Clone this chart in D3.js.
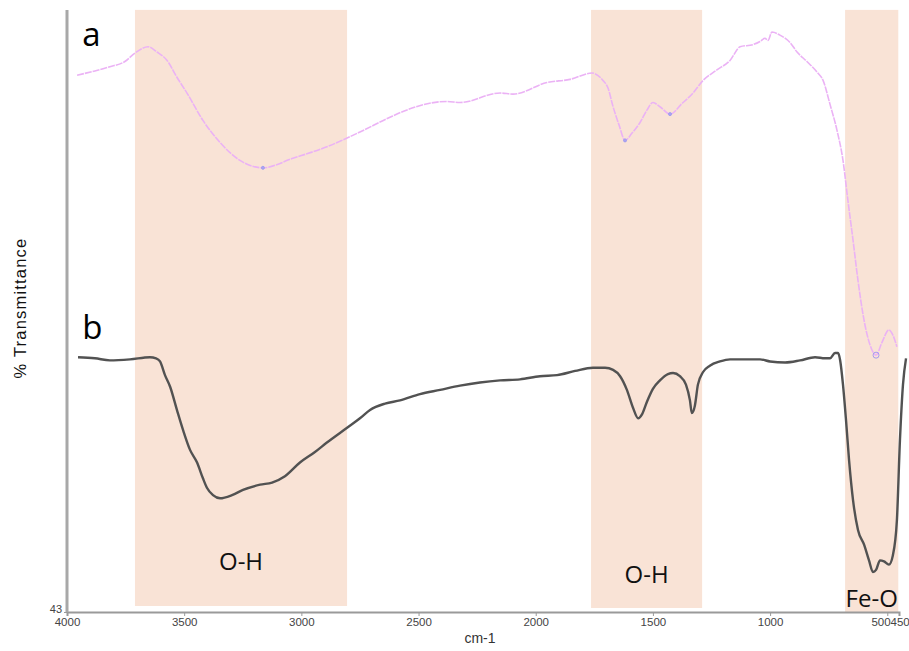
<!DOCTYPE html>
<html>
<head>
<meta charset="utf-8">
<script src="https://cdn.jsdelivr.net/npm/d3@7"></script>
<style>
  html, body { margin: 0; padding: 0; background: #fff; }
  svg { display: block; }
</style>
</head>
<body>
<svg id="chart" width="909" height="651"></svg>
<script>
// FTIR spectra: (a) and (b), % transmittance vs wavenumber (cm-1)

// Highlighted absorption regions
const bandFrom   = [3710, 1764, 680];
const bandTo     = [2805, 1290, 453];
const bandBottom = [43.57, 43.38, 43.0];
const bandLabels = ["O-H", "O-H", "Fe-O"];
const bandLabelY = [47.0, 45.75, 43.45];

// Spectrum a
const waveA = [3957, 3881, 3817, 3753, 3710, 3654, 3616, 3573, 3531, 3488, 3420, 3347, 3262, 3164,
  3036, 2891, 2750, 2622, 2549, 2379, 2323, 2152, 2097, 1952, 1854, 1760, 1713, 1692, 1670, 1645,
  1619, 1589, 1555, 1525, 1500, 1470, 1427, 1376, 1329, 1286, 1227, 1171, 1128, 1073, 1043, 1022,
  1009, 992, 958, 915, 885, 843, 800, 774, 744, 715, 689, 668, 646, 625, 599, 574, 548, 523, 493,
  476, 459];
const transA = [94.0, 94.4, 94.8, 95.3, 96.1, 96.7, 96.2, 95.4, 93.8, 92.3, 89.7, 87.6, 85.9, 85.2,
  86.1, 87.2, 88.6, 90.0, 90.7, 91.5, 91.4, 92.3, 92.2, 93.3, 93.6, 94.2, 93.5, 92.8, 91.0, 89.3,
  87.8, 88.5, 89.5, 90.7, 91.4, 91.0, 90.3, 91.3, 92.3, 93.5, 94.5, 95.4, 96.7, 96.9, 97.2, 97.5,
  97.3, 98.1, 97.8, 97.1, 96.2, 95.3, 94.3, 93.5, 91.2, 88.8, 85.9, 82.1, 78.3, 74.5, 70.7, 68.4,
  67.4, 68.6, 69.8, 69.3, 68.2];
// Marked minima on spectrum a
const peakWaveA = [3164, 1619, 1427, 548];
const peakTransA = [85.2, 87.8, 90.3, 67.4];

// Spectrum b
const waveB = [3953, 3881, 3817, 3731, 3646, 3620, 3603, 3582, 3560, 3531, 3505, 3475, 3445, 3420,
  3403, 3377, 3347, 3296, 3249, 3176, 3125, 3070, 3006, 2942, 2891, 2805, 2750, 2707, 2643, 2579,
  2494, 2408, 2323, 2238, 2152, 2067, 1982, 1909, 1832, 1756, 1704, 1670, 1640, 1611, 1585, 1563,
  1546, 1525, 1500, 1470, 1436, 1414, 1385, 1359, 1342, 1334, 1321, 1308, 1286, 1257, 1214, 1171,
  1107, 1043, 1000, 936, 872, 808, 766, 744, 723, 710, 701, 689, 676, 663, 646, 625, 599, 578, 561,
  548, 531, 514, 493, 476, 459, 446, 433, 420];
const transB = [67.2, 67.1, 66.9, 67.0, 67.2, 67.1, 66.8, 65.5, 64.4, 62.2, 60.3, 58.4, 57.2, 55.7,
  54.8, 54.1, 53.8, 54.1, 54.6, 55.1, 55.3, 55.9, 57.2, 58.2, 59.1, 60.5, 61.4, 62.2, 62.8, 63.1,
  63.7, 64.1, 64.5, 64.8, 65.0, 65.1, 65.4, 65.5, 65.9, 66.2, 66.2, 66.0, 65.4, 64.1, 62.4, 61.4,
  61.8, 63.0, 64.2, 65.0, 65.6, 65.7, 65.4, 64.6, 63.1, 61.9, 62.6, 64.6, 65.8, 66.4, 66.8, 67.0,
  67.0, 67.0, 66.8, 66.7, 66.9, 67.2, 67.1, 67.1, 67.6, 67.6, 66.9, 64.6, 61.2, 57.4, 53.6, 50.8,
  49.4, 47.9, 46.8, 47.0, 47.9, 47.8, 47.5, 48.4, 51.7, 59.3, 64.6, 67.1];

// Axis ticks
const xTicks = [4000, 3500, 3000, 2500, 2000, 1500, 1000, 500, 450];
const yTicks = [43];

// Series labels
const seriesNames = ["a", "b"];
const seriesLabelAt = [[3935, 96.75], [3935, 68.9]];

const svg = d3.select("#chart");
const x = d3.scaleLinear().domain([4000, 450]).range([67, 899]);
const y = d3.scaleLinear().domain([43, 100]).range([612, 12]);

// Shaded bands
svg.append("g").selectAll("rect")
  .data(bandFrom.map((f, i) => ({ f, t: bandTo[i], b: bandBottom[i] })))
  .join("rect")
  .attr("x", d => x(d.f))
  .attr("width", d => x(d.t) - x(d.f))
  .attr("y", y(100.2))
  .attr("height", d => y(d.b) - y(100.2))
  .attr("fill", "#f9e3d6");

svg.append("g").selectAll("text")
  .data(bandLabels)
  .join("text")
  .attr("x", (d, i) => x((bandFrom[i] + bandTo[i]) / 2))
  .attr("y", (d, i) => y(bandLabelY[i]))
  .attr("text-anchor", "middle")
  .attr("font-family", "Open Sans, Noto Sans, sans-serif")
  .attr("font-size", 24)
  .attr("fill", "#111")
  .text(d => d);

// Spectra
const line = d3.line()
  .x(d => x(d[0]))
  .y(d => y(d[1]))
  .curve(d3.curveMonotoneX);

svg.append("path")
  .datum(waveA.map((w, i) => [w, transA[i]]))
  .attr("d", line)
  .attr("fill", "none")
  .attr("stroke", "#ebb2f5")
  .attr("stroke-width", 1.6)
  .attr("stroke-dasharray", "7,1");

svg.append("g").selectAll("circle")
  .data(peakWaveA.map((w, i) => [w, peakTransA[i]]))
  .join("circle")
  .attr("cx", d => x(d[0]))
  .attr("cy", d => y(d[1]))
  .attr("r", (d, i) => i === 3 ? 3 : 1.5)
  .attr("fill", (d, i) => i === 3 ? "none" : "#a9a6f2")
  .attr("stroke", "#a59cf0")
  .attr("stroke-width", 1);

svg.append("path")
  .datum(waveB.map((w, i) => [w, transB[i]]))
  .attr("d", line)
  .attr("fill", "none")
  .attr("stroke", "#525252")
  .attr("stroke-width", 2.4)
  .attr("stroke-linejoin", "round");

// Series labels
svg.append("g").selectAll("text")
  .data(seriesNames)
  .join("text")
  .attr("x", (d, i) => x(seriesLabelAt[i][0]))
  .attr("y", (d, i) => y(seriesLabelAt[i][1]))
  .attr("font-family", "Open Sans, Noto Sans, sans-serif")
  .attr("font-size", 33)
  .attr("fill", "#000")
  .text(d => d);

// Axes
const xAxis = svg.append("g")
  .attr("transform", `translate(0,${y(43)})`)
  .call(d3.axisBottom(x).tickValues(xTicks).tickFormat(d3.format("d")).tickSize(4).tickSizeOuter(4));
xAxis.select(".domain").attr("stroke", "#9a9a9a").attr("stroke-width", 2);
xAxis.selectAll(".tick line").attr("stroke", "#9a9a9a");
xAxis.selectAll(".tick text")
  .attr("font-family", "Liberation Sans, Arial, sans-serif")
  .attr("font-size", 11.5)
  .attr("fill", "#444")
  .attr("dy", "0.6em")
  .attr("text-anchor", d => d === 500 ? "end" : "middle")
  .attr("dx", d => d === 500 ? "0.25em" : (d === 450 ? "0.05em" : 0));

const yAxis = svg.append("g")
  .attr("transform", `translate(${x(4000)},0)`)
  .call(d3.axisLeft(y).tickValues(yTicks).tickSize(3).tickSizeOuter(0));
yAxis.select(".domain")
  .attr("d", `M0,${y(100.2)}V${y(43)}`)
  .attr("stroke", "#a8a8a8")
  .attr("stroke-width", 3);
yAxis.selectAll(".tick line").attr("stroke", "#9a9a9a");
yAxis.selectAll(".tick text")
  .attr("font-family", "Liberation Sans, Arial, sans-serif")
  .attr("font-size", 11)
  .attr("fill", "#444")
  .attr("dy", "0.05em")
  .attr("dx", "0.1em");

// Axis titles
svg.append("text")
  .attr("x", (x.range()[0] + x.range()[1]) / 2 - 3)
  .attr("y", 643)
  .attr("text-anchor", "middle")
  .attr("font-family", "Liberation Sans, Arial, sans-serif")
  .attr("font-size", 14)
  .attr("fill", "#333")
  .text("cm-1");

svg.append("text")
  .attr("transform", `translate(26,308) rotate(-90)`)
  .attr("text-anchor", "middle")
  .attr("font-family", "Liberation Sans, Arial, sans-serif")
  .attr("font-size", 16.5)
  .attr("letter-spacing", 1.2)
  .attr("fill", "#111")
  .text("% Transmittance");
</script>
</body>
</html>
